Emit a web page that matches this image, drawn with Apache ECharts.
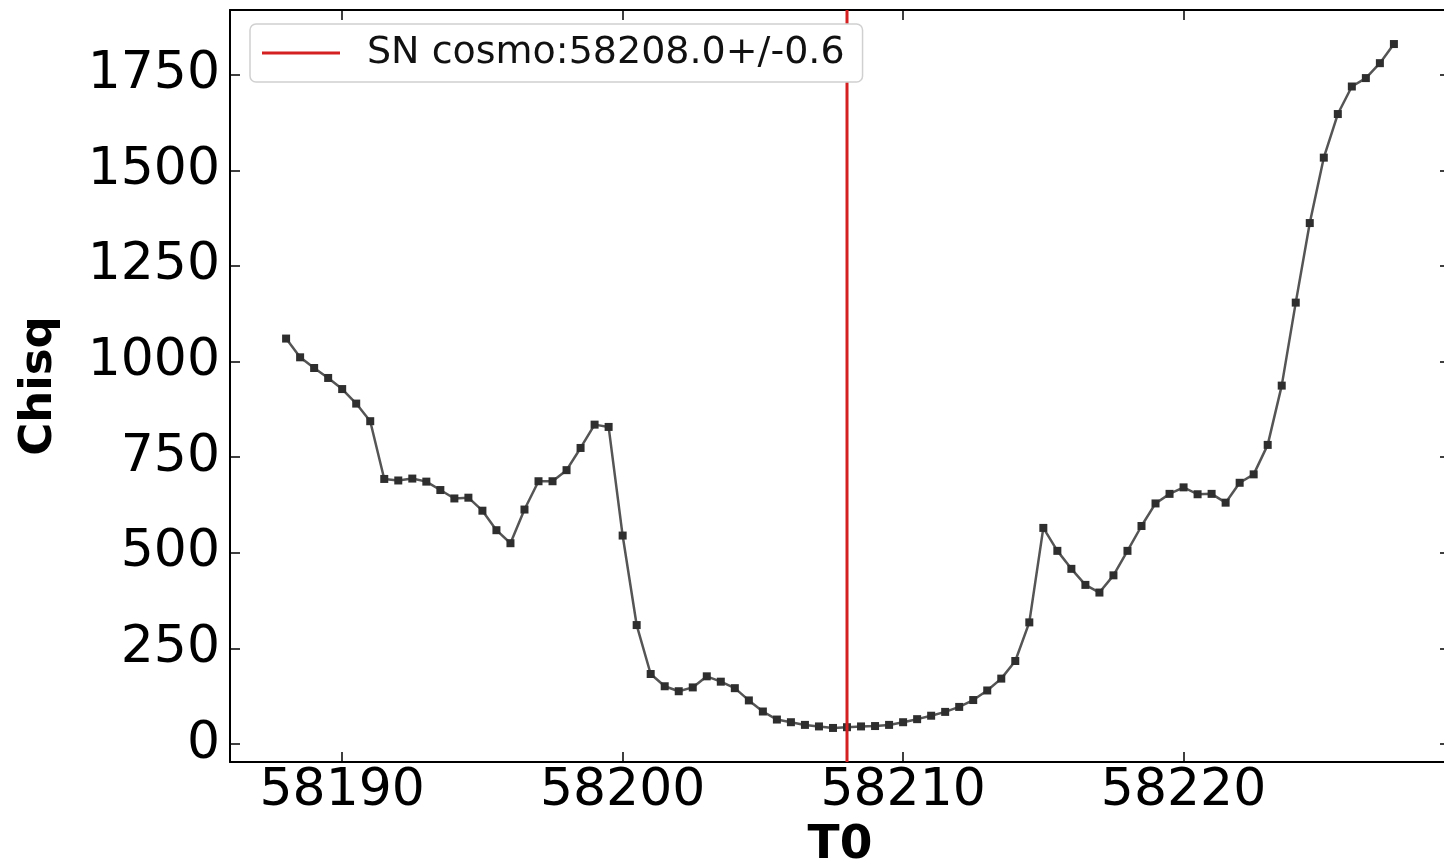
<!DOCTYPE html>
<html>
<head>
<meta charset="utf-8">
<script src="https://cdn.jsdelivr.net/npm/echarts@6/dist/echarts.min.js"></script>
<style>
  html, body { margin: 0; padding: 0; background: #fff; }
  #chart { width: 1444px; height: 862px; }
</style>
</head>
<body>
<div id="chart"></div>
<script>
// T0 grid (step 0.5 days)
const t0 = [
  58188, 58188.5, 58189, 58189.5, 58190, 58190.5, 58191, 58191.5, 58192, 58192.5,
  58193, 58193.5, 58194, 58194.5, 58195, 58195.5, 58196, 58196.5, 58197, 58197.5,
  58198, 58198.5, 58199, 58199.5, 58200, 58200.5, 58201, 58201.5, 58202, 58202.5,
  58203, 58203.5, 58204, 58204.5, 58205, 58205.5, 58206, 58206.5, 58207, 58207.5,
  58208, 58208.5, 58209, 58209.5, 58210, 58210.5, 58211, 58211.5, 58212, 58212.5,
  58213, 58213.5, 58214, 58214.5, 58215, 58215.5, 58216, 58216.5, 58217, 58217.5,
  58218, 58218.5, 58219, 58219.5, 58220, 58220.5, 58221, 58221.5, 58222, 58222.5,
  58223, 58223.5, 58224, 58224.5, 58225, 58225.5, 58226, 58226.5, 58227, 58227.5
];
// chi-square at each T0
const chisq = [
  1060, 1011, 983, 957, 928, 890, 844, 693, 689, 694,
  686, 664, 642, 644, 610, 559, 525, 613, 687, 687,
  716, 774, 835, 829, 545, 311, 183, 151, 138, 148,
  177, 163, 146, 114, 85, 64, 57, 50, 46, 42,
  44, 46, 47, 50, 57, 65, 74, 84, 97, 115,
  140, 171, 217, 318, 565, 505, 458, 416, 396, 441,
  505, 570, 629, 654, 671, 653, 654, 631, 683, 705,
  782, 937, 1154, 1362, 1533, 1647, 1719, 1741, 1780, 1830
];
const bestT0 = 58208.0;
const bestLabel = 'SN cosmo:58208.0+/-0.6';
const xTicks = [58190, 58200, 58210, 58220];
const yTicks = [0, 250, 500, 750, 1000, 1250, 1500, 1750];
const xRange = [58186, 58229.5];
const yRange = [-47, 1919];

const font = 'DejaVu Sans';
const plain = v => String(v);

function frameAxis(extra) {
  return Object.assign({
    type: 'value',
    splitLine: { show: false },
    axisLine: { show: true, onZero: false, lineStyle: { color: '#000', width: 2 } }
  }, extra);
}

function ticks(values) {
  return { show: true, inside: true, length: 10, customValues: values, lineStyle: { color: '#000', width: 1.5 } };
}

const chart = echarts.init(document.getElementById('chart'));

chart.setOption({
  backgroundColor: '#fff',
  animation: false,
  grid: { left: 230, top: 10, width: 1220, height: 752, containLabel: false, outerBoundsMode: 'none' },
  legend: {
    data: [bestLabel],
    left: 250, top: 24,
    padding: [10, 18, 10, 12],
    itemWidth: 78, itemHeight: 3, itemGap: 30,
    icon: 'rect',
    backgroundColor: '#fff',
    borderColor: '#d0d0d0', borderWidth: 1.5, borderRadius: 6,
    textStyle: { fontFamily: font, fontSize: 38, color: '#111', padding: [0, 0, 0, 22] }
  },
  xAxis: [
    frameAxis({
      min: xRange[0], max: xRange[1],
      name: 'T0', nameLocation: 'middle', nameGap: 52,
      nameTextStyle: { fontFamily: font, fontSize: 47, fontWeight: 'bold', color: '#000' },
      axisTick: ticks(xTicks),
      axisLabel: { customValues: xTicks, formatter: plain, fontFamily: font, fontSize: 52, color: '#000', margin: 3 }
    }),
    frameAxis({
      position: 'top', min: xRange[0], max: xRange[1],
      axisTick: ticks(xTicks),
      axisLabel: { show: false }
    })
  ],
  yAxis: [
    frameAxis({
      min: yRange[0], max: yRange[1],
      name: 'Chisq', nameLocation: 'middle', nameGap: 168,
      nameTextStyle: { fontFamily: font, fontSize: 45, fontWeight: 'bold', color: '#000' },
      axisTick: ticks(yTicks),
      axisLabel: { customValues: yTicks, formatter: plain, fontFamily: font, fontSize: 52, color: '#000', margin: 10 }
    }),
    frameAxis({
      position: 'right', min: yRange[0], max: yRange[1],
      axisTick: ticks(yTicks),
      axisLabel: { show: false }
    })
  ],
  series: [
    {
      name: 'chisq',
      type: 'line',
      data: t0.map((t, i) => [t, chisq[i]]),
      symbol: 'rect', symbolSize: 8,
      showSymbol: true,
      itemStyle: { color: '#2e2e2e' },
      lineStyle: { color: '#555', width: 2.5 },
      z: 2
    },
    {
      name: bestLabel,
      type: 'line',
      data: [[bestT0, yRange[0]], [bestT0, yRange[1]]],
      symbol: 'none',
      itemStyle: { color: '#d42020' },
      lineStyle: { color: '#d42020', width: 3 },
      z: 3
    }
  ]
});
</script>
</body>
</html>
